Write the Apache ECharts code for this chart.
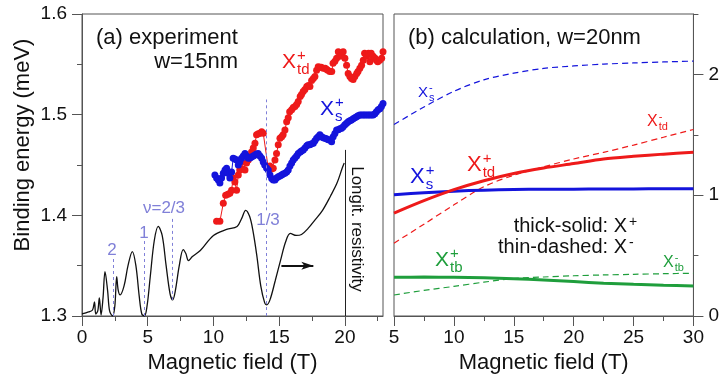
<!DOCTYPE html>
<html>
<head>
<meta charset="utf-8">
<script src="https://cdn.jsdelivr.net/npm/echarts@6/dist/echarts.min.js"></script>
<style>
html, body { margin: 0; padding: 0; background: #fff; }
#chart { width: 722px; height: 380px; }
</style>
</head>
<body>
<div id="chart"></div>
<script>
// (a) experiment: longitudinal resistivity trace (arb. units on the energy axis)
const resB = [0, 0.5, 0.8, 0.95, 1.05, 1.2, 1.32, 1.45, 1.6, 1.75, 1.95, 2.1, 2.33, 2.5, 2.64, 2.75, 2.9, 3.2, 3.5, 3.83, 4.1, 4.35, 4.55, 4.75, 4.95, 5.2, 5.5, 5.8, 6.1, 6.4, 6.7, 6.9, 7.1, 7.4, 7.7, 7.9, 8.1, 8.4, 9.0, 10.0, 11.0, 11.8, 12.15, 12.45, 12.75, 13.0, 13.3, 13.6, 13.9, 14.05, 14.3, 14.7, 15.1, 15.5, 15.85, 16.3, 16.7, 17.2, 17.7, 18.3, 18.9, 19.4, 19.8, 19.95];
const resV = [1.302, 1.304, 1.306, 1.314, 1.302, 1.305, 1.318, 1.301, 1.318, 1.344, 1.325, 1.305, 1.300, 1.310, 1.339, 1.326, 1.321, 1.330, 1.350, 1.364, 1.350, 1.320, 1.302, 1.300, 1.310, 1.340, 1.375, 1.389, 1.380, 1.350, 1.322, 1.316, 1.325, 1.350, 1.366, 1.362, 1.355, 1.359, 1.365, 1.380, 1.386, 1.389, 1.397, 1.405, 1.399, 1.385, 1.360, 1.330, 1.313, 1.311, 1.316, 1.335, 1.355, 1.374, 1.382, 1.380, 1.381, 1.387, 1.395, 1.405, 1.419, 1.432, 1.447, 1.452];

// X_td+ (red) and X_s+ (blue) measured binding energies: [B, E]
const tdPlusExp = [[10.24,1.394],[10.49,1.394],[10.75,1.412],[10.93,1.420],[11.1,1.421],[11.25,1.422],[11.38,1.425],[11.5,1.437],[11.63,1.433],[11.76,1.425],[11.89,1.440],[12.0,1.445],[12.14,1.453],[12.25,1.446],[12.4,1.445],[12.52,1.452],[12.65,1.455],[12.78,1.458],[12.9,1.463],[13.03,1.467],[13.16,1.4715],[13.28,1.480],[13.41,1.481],[13.54,1.4815],[13.67,1.483],[13.79,1.4815],[14.17,1.4467],[14.3,1.449],[14.43,1.446],[14.55,1.4467],[14.68,1.455],[14.8,1.4615],[14.93,1.470],[15.06,1.4765],[15.19,1.478],[15.3,1.480],[15.44,1.4847],[15.57,1.493],[15.69,1.497],[15.8,1.503],[15.95,1.505],[16.07,1.507],[16.2,1.508],[16.33,1.510],[16.45,1.513],[16.6,1.518],[16.7,1.520],[16.83,1.523],[16.96,1.525],[17.1,1.528],[17.22,1.529],[17.34,1.528],[17.47,1.534],[17.6,1.536],[17.72,1.538],[17.85,1.544],[17.97,1.5476],[18.1,1.547],[18.2,1.547],[18.35,1.546],[18.5,1.546],[18.6,1.545],[18.7,1.544],[18.85,1.543],[19.0,1.543],[19.1,1.551],[19.24,1.553],[19.37,1.556],[19.5,1.5625],[19.62,1.558],[19.75,1.559],[19.87,1.5625],[20.0,1.556],[20.13,1.549],[20.25,1.541],[20.38,1.538],[20.5,1.536],[20.63,1.535],[20.76,1.538],[20.9,1.541],[21.0,1.543],[21.14,1.546],[21.27,1.549],[21.4,1.554],[21.5,1.561],[21.65,1.558],[21.8,1.561],[21.9,1.5525],[22.0,1.561],[22.15,1.558],[22.3,1.556],[22.4,1.554],[22.5,1.5525],[22.65,1.554],[22.8,1.556],[22.9,1.5625]];
const sPlusExp = [[10.11,1.440],[10.24,1.437],[10.37,1.435],[10.49,1.432],[10.62,1.437],[10.75,1.4417],[10.88,1.445],[11.0,1.4467],[11.13,1.4417],[11.25,1.437],[11.38,1.443],[11.5,1.4566],[11.63,1.456],[11.76,1.455],[11.89,1.450],[12.0,1.453],[12.14,1.4566],[12.27,1.459],[12.4,1.4615],[12.52,1.459],[12.65,1.4566],[12.78,1.457],[12.9,1.458],[13.03,1.459],[13.16,1.460],[13.28,1.461],[13.4,1.4615],[13.54,1.459],[13.67,1.4566],[13.79,1.453],[13.9,1.450],[14.04,1.447],[14.17,1.445],[14.3,1.440],[14.43,1.4367],[14.55,1.435],[14.68,1.435],[14.8,1.437],[14.93,1.4383],[15.06,1.439],[15.19,1.440],[15.3,1.441],[15.44,1.4417],[15.57,1.443],[15.69,1.445],[15.82,1.449],[15.95,1.452],[16.07,1.455],[16.2,1.457],[16.33,1.459],[16.45,1.4615],[16.6,1.463],[16.7,1.464],[16.83,1.465],[16.96,1.467],[17.1,1.469],[17.2,1.470],[17.34,1.470],[17.47,1.471],[17.6,1.4715],[17.72,1.474],[17.85,1.4765],[17.97,1.478],[18.1,1.480],[18.23,1.478],[18.35,1.477],[18.48,1.4765],[18.6,1.476],[18.73,1.475],[18.86,1.4748],[18.99,1.473],[19.11,1.478],[19.24,1.4814],[19.37,1.4847],[19.5,1.485],[19.62,1.486],[19.75,1.4864],[19.87,1.488],[20.0,1.490],[20.13,1.4915],[20.25,1.493],[20.38,1.494],[20.5,1.4946],[20.63,1.496],[20.76,1.497],[20.89,1.498],[21.0,1.499],[21.14,1.4996],[21.27,1.4996],[21.4,1.4996],[21.52,1.4996],[21.65,1.4996],[21.78,1.4996],[21.9,1.4996],[22.03,1.4996],[22.15,1.4996],[22.28,1.501],[22.4,1.503],[22.53,1.505],[22.66,1.506],[22.78,1.508],[22.9,1.511]];

// filling factor marks: [B, from, to]
const nuSegs = [[2.35, 1.30, 1.357], [4.72, 1.30, 1.377], [6.9, 1.316, 1.398], [14.04, 1.30, 1.386], [14.04, 1.405, 1.515]];
const arrowB = [15.17, 17.6];
const arrowV = 1.35;
// resistivity axis line at B = 20
const rhoAxis = [20, 1.3, 1.465];

// (b) calculation, w=20nm
const calcB = [5, 7.5, 10, 12.5, 15, 17.5, 20, 22.5, 25, 27.5, 30];
const sMinus = [1.585, 1.73, 1.86, 1.955, 2.01, 2.05, 2.07, 2.085, 2.095, 2.103, 2.11];
const tdMinus = [0.603, 0.76, 0.92, 1.07, 1.165, 1.235, 1.30, 1.355, 1.415, 1.48, 1.544];
const tdPlus = [0.852, 0.955, 1.046, 1.12, 1.18, 1.225, 1.262, 1.30, 1.322, 1.34, 1.355];
const sPlus = [1.004, 1.02, 1.033, 1.042, 1.047, 1.049, 1.05, 1.051, 1.052, 1.053, 1.054];
const tbPlus = [0.321, 0.322, 0.32, 0.316, 0.309, 0.298, 0.285, 0.271, 0.262, 0.255, 0.249];
const tbMinus = [0.174, 0.212, 0.245, 0.28, 0.31, 0.323, 0.333, 0.34, 0.345, 0.35, 0.354];

const FONT = 'Liberation Sans, Arial, sans-serif';
const AX = '#555';
const RED = '#ee1a1a';
const BLUE = '#1414dc';
const GREEN = '#1f9e3c';
const NU = '#8080d8';

const zip = (xs, ys) => xs.map((x, i) => [x, ys[i]]);

// X with stacked super/subscript, x = left edge, base = baseline
function xlab(x, base, size, color, sup, sub) {
  const s2 = Math.round(size * 0.7);
  const w = size * 0.667 + 1;
  const t = (tx, ty, str, fs) => ({
    type: 'text', x: tx, y: ty,
    style: { text: str, fill: color, fontSize: fs, fontFamily: FONT, verticalAlign: 'middle' }
  });
  const kids = [t(x, base - 0.35 * size, 'X', size), t(x + w, base - 0.4 * size - 0.35 * s2, sup, s2)];
  if (sub) kids.push(t(x + w, base + 0.25 * size - 0.35 * s2, sub, s2));
  return { type: 'group', children: kids };
}
function txt(x, y, str, size, color, align, rot) {
  return {
    type: 'text', x: x, y: y, rotation: rot || 0,
    style: { text: str, fill: color || '#111', fontSize: size, fontFamily: FONT, align: align || 'left', verticalAlign: 'middle' }
  };
}

const tickLbl = { color: '#111', fontSize: 19, fontFamily: FONT };
function axisPair(grid, min, max, pos, major, minor, margin, fmt) {
  const base = { gridIndex: grid, type: 'value', min: min, max: max, position: pos, splitLine: { show: false } };
  const main = Object.assign({}, base, {
    axisLine: { show: true, lineStyle: { color: AX, width: 1 } },
    axisTick: { show: true, customValues: major, length: 10, lineStyle: { color: AX } },
    axisLabel: Object.assign({ customValues: major, margin: margin, formatter: fmt }, tickLbl)
  });
  const sub = Object.assign({}, base, {
    axisLine: { show: false },
    axisTick: { show: true, customValues: minor, length: 5, lineStyle: { color: AX } },
    axisLabel: { show: false }
  });
  return [main, sub];
}

const xAxes = axisPair(0, 0, 22.9, 'bottom', [0, 5, 10, 15, 20], [2.5, 7.5, 12.5, 17.5, 22.5], 12, v => String(v))
  .concat(axisPair(1, 5, 30, 'bottom', [5, 10, 15, 20, 25, 30], [7.5, 12.5, 17.5, 22.5, 27.5], 12, v => String(v)));
xAxes[0].name = 'Magnetic field (T)';
xAxes[2].name = 'Magnetic field (T)';
[xAxes[0], xAxes[2]].forEach(a => {
  a.nameLocation = 'middle';
  a.nameGap = 35;
  a.nameTextStyle = { color: '#111', fontSize: 22, fontFamily: FONT };
});
const yAxes = axisPair(0, 1.3, 1.6, 'left', [1.3, 1.4, 1.5, 1.6], [1.35, 1.45, 1.55], 15, v => v.toFixed(1))
  .concat(axisPair(1, 0, 2.5, 'right', [0, 1, 2], [0.5, 1.5, 2.5], 15, v => String(Math.round(v))));

const chart = echarts.init(document.getElementById('chart'), null, { renderer: 'canvas' });
chart.setOption({
  animation: false,
  backgroundColor: '#fff',
  grid: [
    { left: 82, top: 14, width: 301, height: 302, show: true, borderColor: AX, borderWidth: 1 },
    { left: 394, top: 14, width: 301, height: 302, show: true, borderColor: AX, borderWidth: 1 }
  ],
  xAxis: xAxes,
  yAxis: yAxes,
  series: [
    {
      name: 'resistivity', type: 'line', xAxisIndex: 0, yAxisIndex: 0,
      data: zip(resB, resV), smooth: 0.35, showSymbol: false, symbol: 'none',
      lineStyle: { color: '#111', width: 1.3 },
      markLine: {
        silent: true, symbol: ['none', 'arrow'], symbolSize: [6, 12],
        label: { show: false },
        lineStyle: { color: '#111', width: 2, type: 'solid' },
        data: [[{ coord: [arrowB[0], arrowV] }, { coord: [arrowB[1], arrowV] }]]
      }
    },
    {
      name: 'rho axis', type: 'line', xAxisIndex: 0, yAxisIndex: 0, data: [],
      markLine: {
        silent: true, symbol: 'none', label: { show: false },
        lineStyle: { color: '#222', width: 1, type: 'solid' },
        data: [[{ coord: [rhoAxis[0], rhoAxis[1]] }, { coord: [rhoAxis[0], rhoAxis[2]] }]]
      }
    },
    {
      name: 'nu', type: 'line', xAxisIndex: 0, yAxisIndex: 0, data: [],
      markLine: {
        silent: true, symbol: 'none', label: { show: false },
        lineStyle: { color: NU, width: 1, type: [3, 3] },
        data: nuSegs.map(s => [{ coord: [s[0], s[1]] }, { coord: [s[0], s[2]] }])
      }
    },
    {
      name: 'Xtd+ exp', type: 'line', xAxisIndex: 0, yAxisIndex: 0, data: tdPlusExp,
      symbol: 'circle', symbolSize: 7, itemStyle: { color: RED }, lineStyle: { color: RED, width: 1 }
    },
    {
      name: 'Xs+ exp', type: 'line', xAxisIndex: 0, yAxisIndex: 0, data: sPlusExp,
      symbol: 'circle', symbolSize: 7, itemStyle: { color: BLUE }, lineStyle: { color: BLUE, width: 1 }
    },
    { type: 'line', xAxisIndex: 2, yAxisIndex: 2, data: zip(calcB, sMinus), smooth: 0.3, symbol: 'none', lineStyle: { color: BLUE, width: 1.2, type: [6, 4] } },
    { type: 'line', xAxisIndex: 2, yAxisIndex: 2, data: zip(calcB, tdMinus), smooth: 0.3, symbol: 'none', lineStyle: { color: RED, width: 1.2, type: [6, 4] } },
    { type: 'line', xAxisIndex: 2, yAxisIndex: 2, data: zip(calcB, tbMinus), smooth: 0.3, symbol: 'none', lineStyle: { color: GREEN, width: 1.2, type: [6, 4] } },
    { type: 'line', xAxisIndex: 2, yAxisIndex: 2, data: zip(calcB, sPlus), smooth: 0.3, symbol: 'none', lineStyle: { color: BLUE, width: 3 } },
    { type: 'line', xAxisIndex: 2, yAxisIndex: 2, data: zip(calcB, tdPlus), smooth: 0.3, symbol: 'none', lineStyle: { color: RED, width: 3 } },
    { type: 'line', xAxisIndex: 2, yAxisIndex: 2, data: zip(calcB, tbPlus), smooth: 0.3, symbol: 'none', lineStyle: { color: GREEN, width: 3 } }
  ],
  graphic: [
    txt(23, 145, 'Binding energy (meV)', 22, '#111', 'center', Math.PI / 2),
    txt(96, 38, '(a) experiment', 22),
    txt(238, 62, 'w=15nm', 22, '#111', 'right'),
    xlab(282, 70, 21, RED, '+', 'td'),
    xlab(320, 117, 21, BLUE, '+', 's'),
    txt(357, 229, 'Longit. resistivity', 17, '#111', 'center', -Math.PI / 2),
    txt(112, 250, '2', 17, NU, 'center'),
    txt(144, 233, '1', 17, NU, 'center'),
    txt(164, 208, 'ν=2/3', 17, NU, 'center'),
    txt(268, 220, '1/3', 17, NU, 'center'),
    txt(408, 38, '(b) calculation, w=20nm', 22),
    xlab(418, 98, 15, BLUE, '-', 's'),
    xlab(647, 127, 16, RED, '-', 'td'),
    xlab(467, 173, 22, RED, '+', 'td'),
    xlab(410, 185, 22, BLUE, '+', 's'),
    xlab(435, 268, 21, GREEN, '+', 'tb'),
    xlab(663, 268, 16, GREEN, '-', 'tb'),
    txt(627, 226, 'thick-solid: X', 20, '#111', 'right'),
    txt(629, 222, '+', 14, '#111'),
    txt(627, 247, 'thin-dashed: X', 20, '#111', 'right'),
    txt(629, 243, '-', 14, '#111')
  ]
});
</script>
</body>
</html>
